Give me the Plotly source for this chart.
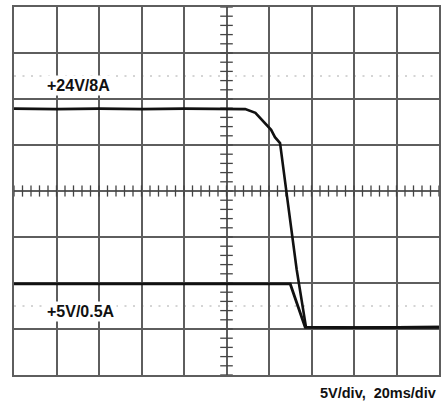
import plotly.graph_objects as go

# Oscilloscope trace data (x in time divisions, y in vertical divisions)
v24_x = [0.0, 1.0, 2.0, 3.0, 4.0, 5.0, 5.44, 5.68, 5.91, 6.05, 6.14, 6.26, 6.45, 6.65, 6.87, 8.0, 10.0]
v24_y = [5.79, 5.78, 5.79, 5.78, 5.79, 5.79, 5.78, 5.70, 5.48, 5.33, 5.17, 5.04, 3.70, 2.30, 1.04, 1.03, 1.04]

v5_x = [0.0, 2.0, 4.0, 6.0, 6.50, 6.85, 8.0, 10.0]
v5_y = [1.98, 1.98, 1.99, 1.98, 1.98, 1.04, 1.03, 1.04]

label_24 = "+24V/8A"
label_5 = "+5V/0.5A"
scale_label = "5V/div,  20ms/div"

grid_color = "#5e5e5e"
font_family = "Liberation Sans, Arial, sans-serif"

fig = go.Figure()

# center graticule minor ticks
minor = [i * 0.2 for i in range(0, 51)]
fig.add_trace(go.Scatter(x=minor, y=[4] * len(minor), mode="markers",
                         marker=dict(symbol="line-ns", size=8, line=dict(color="#444", width=1.3)),
                         hoverinfo="skip", showlegend=False))
minor_y = [i * 0.2 for i in range(0, 41)]
fig.add_trace(go.Scatter(x=[5] * len(minor_y), y=minor_y, mode="markers",
                         marker=dict(symbol="line-ew", size=9, line=dict(color="#444", width=1.3)),
                         hoverinfo="skip", showlegend=False))

# dotted half-division lines
for yy in [6.5, 1.5]:
    fig.add_shape(type="line", x0=0, x1=10, y0=yy, y1=yy, xref="x", yref="y",
                  line=dict(color="#aaaaaa", width=1, dash="2px,6.5px"), layer="below")

fig.add_trace(go.Scatter(x=v24_x, y=v24_y, mode="lines",
                         line=dict(color="#111111", width=2.6), hoverinfo="skip", showlegend=False))
fig.add_trace(go.Scatter(x=v5_x, y=v5_y, mode="lines",
                         line=dict(color="#111111", width=2.8), hoverinfo="skip", showlegend=False))

fig.add_annotation(x=0.72, y=6.3, xref="x", yref="y", text=f"<b>{label_24}</b>", showarrow=False,
                   xanchor="left", yanchor="middle", bgcolor="white",
                   font=dict(family=font_family, size=16, color="#111"))
fig.add_annotation(x=0.72, y=1.37, xref="x", yref="y", text=f"<b>{label_5}</b>", showarrow=False,
                   xanchor="left", yanchor="middle", bgcolor="white",
                   font=dict(family=font_family, size=16, color="#111"))
fig.add_annotation(x=0.998, y=-0.049, xref="paper", yref="paper", text=f"<b>{scale_label}</b>",
                   showarrow=False, xanchor="right", yanchor="middle",
                   font=dict(family=font_family, size=14.5, color="#111"))

axis_common = dict(showgrid=True, gridcolor=grid_color, gridwidth=1.7, zeroline=False,
                   showticklabels=False, ticks="", showline=True, linecolor=grid_color,
                   linewidth=2, mirror=True, fixedrange=True)
fig.update_xaxes(range=[0, 10], dtick=1, tick0=0, **axis_common)
fig.update_yaxes(range=[0, 8], dtick=1, tick0=0, **axis_common)

fig.update_layout(width=446, height=403, margin=dict(l=14, r=5, t=7, b=28),
                  paper_bgcolor="white", plot_bgcolor="white", showlegend=False)

fig.write_html("out.html", config={"displayModeBar": False},
               post_script="document.body.style.margin='0';document.body.style.overflow='hidden';")
